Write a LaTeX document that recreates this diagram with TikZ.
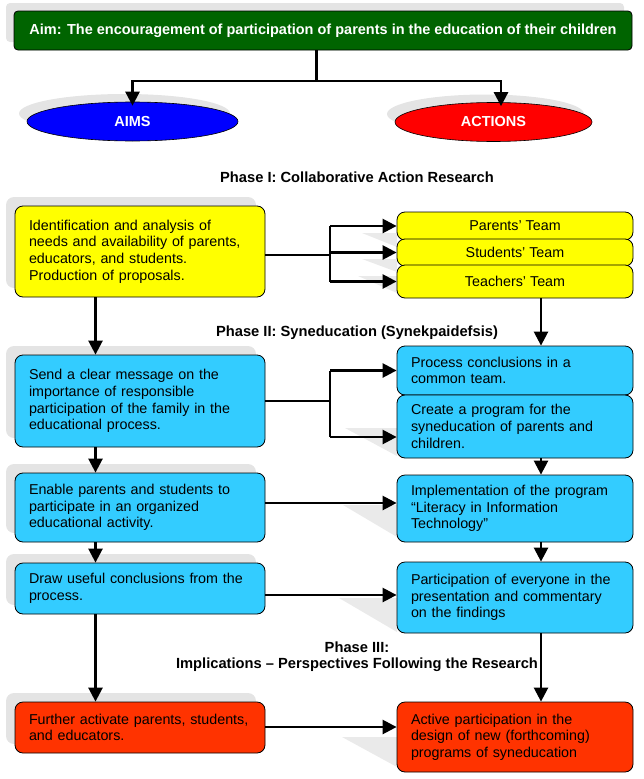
\documentclass[tikz,border=0pt]{standalone}
\usepackage{fontspec}
\setmainfont{Liberation Sans}
\usetikzlibrary{arrows.meta,shadows,shapes.geometric}
\definecolor{aimgreen}{RGB}{0,100,0}
\definecolor{boxyellow}{RGB}{255,255,0}
\definecolor{boxcyan}{RGB}{51,204,255}
\definecolor{boxred}{RGB}{255,51,0}
\definecolor{shadowgray}{RGB}{228,228,228}
\definecolor{rshadowgray}{RGB}{234,234,234}
\begin{document}
\begin{tikzpicture}[x=1pt,y=-1pt,
  txt/.style={font=\fontsize{14.3}{16.7}\selectfont},
  box/.style={draw=black, line width=0.8pt, rounded corners=8pt, inner sep=0pt, txt},
  lbox/.style={box, align=left, minimum width=250pt, text width=222pt,
    general shadow={fill=shadowgray, shadow xshift=-9pt, shadow yshift=9pt}},
  rbox/.style={box, align=left, minimum width=236pt, text width=208pt},
  team/.style={box, align=center, minimum width=236pt, fill=boxyellow},
  oval/.style={ellipse, draw=black, line width=0.6pt, minimum width=211pt, minimum height=39pt,
    inner sep=0pt, text=white, font=\bfseries\fontsize{14.5}{17}\selectfont,
    general shadow={fill=shadowgray, shadow xshift=-8pt, shadow yshift=8pt}},
  phase/.style={align=center, font=\bfseries\fontsize{14.7}{16}\selectfont},
  ln/.style={line width=2.5pt},
  arr/.style={ln, -{Triangle[length=14pt,width=14pt]}},
  rshadow/.style={fill=rshadowgray}
]
\useasboundingbox (0,0) rectangle (643,779);

% title and ovals
\node[box, rounded corners=4pt, fill=aimgreen, text=white, font=\bfseries\fontsize{14.5}{17}\selectfont,
  minimum width=618pt, minimum height=39pt,
  general shadow={fill=shadowgray, shadow xshift=-8pt, shadow yshift=8pt}] (aim) at (323,30.5)
  {Aim: The encouragement of participation of parents in the education of their children};
\node[oval, fill=blue] (aims) at (132.5,121.5) {AIMS};
\node[oval, fill=red, minimum width=197pt] (actions) at (493.5,122) {ACTIONS};

\node[phase] (ph1) at (357,177) {Phase I: Collaborative Action Research};

% left column
\node[lbox, fill=boxyellow, minimum height=91pt] (ident) at (140,251.5)
  {Identification and analysis of\\needs and availability of parents,\\educators, and students.\\Production of proposals.};
\node[lbox, fill=boxcyan, minimum height=92pt] (msg) at (140,401)
  {Send a clear message on the\\importance of responsible\\participation of the family in the\\educational process.};
\node[lbox, fill=boxcyan, minimum height=69pt] (enable) at (140,507.5)
  {Enable parents and students to\\participate in an organized\\educational activity.};
\node[lbox, fill=boxcyan, minimum height=51pt] (concl) at (140,588.5)
  {Draw useful conclusions from the\\process.};
\node[lbox, fill=boxred, minimum height=51pt] (further) at (140,727.5)
  {Further activate parents, students,\\and educators.};

% right column shadows
\fill[rshadow] (397,233) -- (362,233) -- (397,247) -- cycle;
\fill[rshadow] (397,259) -- (362,259) -- (397,272) -- cycle;
\fill[rshadow] (397,276) -- (358,276) -- (397,293) -- cycle;
\fill[rshadow] (397,428) -- (345,428) -- (397,456) -- cycle;
\fill[rshadow] (397,505) -- (343,505) -- (397,537) -- cycle;
\fill[rshadow] (397,598) -- (339,598) -- (397,632) -- cycle;
\fill[rshadow] (397,737) -- (342,737) -- (397,767) -- cycle;

% right column
\node[team, minimum height=28pt] (parents) at (515,226) {Parents’ Team};
\node[team, minimum height=27pt] (students) at (515,252.5) {Students’ Team};
\node[team, minimum height=33pt] (teachers) at (515,281.5) {Teachers’ Team};

\node[phase] (ph2) at (357,333) {Phase II: Syneducation (Synekpaidefsis)};

\node[rbox, fill=boxcyan, minimum height=49pt] (process) at (515,370.5)
  {Process conclusions in a\\common team.};
\node[rbox, fill=boxcyan, minimum height=63pt] (create) at (515,426.5)
  {Create a program for the\\syneducation of parents and\\children.};
\node[rbox, fill=boxcyan, minimum height=67pt] (impl) at (515,508.5)
  {Implementation of the program\\“Literacy in Information\\Technology”};
\node[rbox, fill=boxcyan, minimum height=71pt] (part) at (515,597.5)
  {Participation of everyone in the\\presentation and commentary\\on the findings};

\node[phase] (ph3) at (357,657) {Phase III:\\Implications – Perspectives Following the Research};

\node[rbox, fill=boxred, minimum height=70pt] (active) at (515,737)
  {Active participation in the\\design of new (forthcoming)\\programs of syneducation};

% top connectors
\coordinate (j0) at (316.7,81);
\coordinate (a2) at (501,81);
\draw[ln] (aim.south -| j0) -- (j0);
\draw[arr] (j0) -| ([yshift=-4pt]aims.north);
\draw[arr] (j0) -- (a2) -- ([yshift=-4pt]a2 |- actions.north);

% phase I branching
\coordinate (j1) at (330,255);
\draw[ln] (ident.east |- j1) -- (j1);
\draw[ln] (parents.west -| j1) -- (teachers.west -| j1);
\foreach \n in {parents,students,teachers}
  \draw[arr] (\n.west -| j1) -- (\n.west);

% phase II branching
\coordinate (j2) at (330,401);
\coordinate (j2b) at (330,437);
\draw[ln] (msg.east |- j2) -- (j2);
\draw[ln] (process.west -| j2) -- (j2b);
\draw[arr] (process.west -| j2) -- (process.west);
\draw[arr] (j2b) -- (j2b -| create.west);

% horizontal arrows
\coordinate (r3) at (330,503);
\coordinate (r4) at (330,595);
\coordinate (r5) at (330,727);
\draw[arr] (r3 -| enable.east) -- (r3 -| impl.west);
\draw[arr] (r4 -| concl.east) -- (r4 -| part.west);
\draw[arr] (r5 -| further.east) -- (r5 -| active.west);

% vertical arrows
\coordinate (cl) at (95.5,0);
\coordinate (cr) at (541,0);
\draw[arr] (ident.south -| cl) -- (msg.north -| cl);
\draw[arr] (msg.south -| cl) -- (enable.north -| cl);
\draw[arr] (enable.south -| cl) -- (concl.north -| cl);
\draw[arr] (concl.south -| cl) -- (further.north -| cl);
\draw[arr] (teachers.south -| cr) -- (process.north -| cr);
\draw[arr] (create.south -| cr) -- (impl.north -| cr);
\draw[arr] (impl.south -| cr) -- (part.north -| cr);
\draw[arr] (part.south -| cr) -- (active.north -| cr);
\end{tikzpicture}
\end{document}
